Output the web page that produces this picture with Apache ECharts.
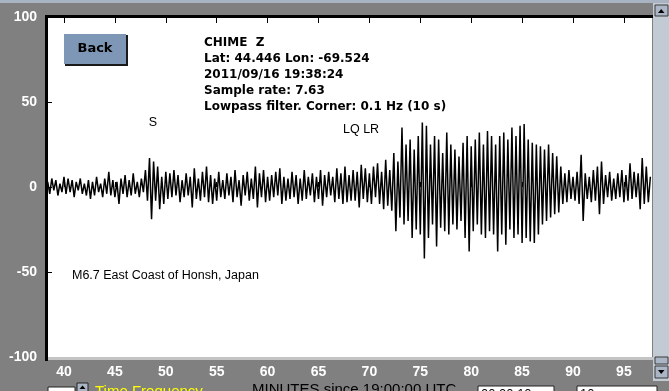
<!DOCTYPE html>
<html><head><meta charset="utf-8">
<script src="https://cdn.jsdelivr.net/npm/echarts@6/dist/echarts.min.js"></script>
<style>html,body{margin:0;padding:0;background:#808080;overflow:hidden}#c{width:669px;height:391px}</style>
</head><body><div id="c"></div><script>
// Trace sampled every 0.2 minute starting at 38.4 minutes after 19:00 UTC
const startMinute = 38.4;
const sampleStep = 0.2;
const noiseBefore = [
  3,-4,5,-2,4,-5,2,-3,6,-4,
  5,-3,4,-6,3,-2,5,-4,2,-5,
  4,-7,3,-5,6,-3,2,-6,5,-4,
  9,-5,4,-6,3,-10,5,-4,7,-6,
  4,-5,8,-4,3,-6,5,-3,10,-8
];
const bodyWaves = [
  17,-19,15,-8,12,-13,6,-10,9,-7,
  8,-6,10,-5,7,-9,4,-6,8,-5,
  6,-12,11,-7,5,-8,9,-6,12,-9,
  7,-10,5,-8,9,-6,4,-7,8,-5,
  6,-9,10,-6,4,-11,7,-5,9,-8,
  5,-7,12,-12,8,-6,10,-9,6,-8,
  7,-6,9,-5,11,-10,6,-8,5,-7,
  9,-6,7,-10,5,-8,10,-7,6,-5,
  8,-9,6,-7,10,-11,7,-6,9,-5,
  6,-9,11,-7,8,-10,12,-9,7,-8,
  10,-8,9,-12,13,-7,11,-9,8,-10,
  12,-6,14,-10,9,-13,16,-11,10,-14
];
const surfaceWaves = [
  20,-26,15,-18,35,-22,25,-20,28,-30,
  22,-25,30,-28,38,-42,36,-30,25,-22,
  30,-35,28,-24,20,-26,32,-28,25,-22,
  22,-25,18,-20,26,-30,30,-38,24,-26,
  28,-22,32,-28,25,-30,33,-26,30,-28,
  25,-38,30,-28,32,-34,28,-25,35,-30,
  30,-28,36,-33,37,-30,28,-32,26,-33,
  25,-28,24,-22,22,-20,25,-18,20,-16
];
const coda = [
  18,-15,12,-10,8,-9,10,-7,6,-8,
  9,-10,19,-20,8,-7,6,-9,10,-8,
  12,-16,15,-10,7,-6,9,-8,5,-7,
  8,-6,10,-9,7,-8,14,-7,9,-6,
  8,-13,17,-10,12,-9,6
];
const xTicks = [40,45,50,55,60,65,70,75,80,85,90,95];
const infoLines = [
  'CHIME  Z',
  'Lat: 44.446 Lon: -69.524',
  '2011/09/16 19:38:24',
  'Sample rate: 7.63',
  'Lowpass filter. Corner: 0.1 Hz (10 s)'
];
const eventLabel = 'M6.7 East Coast of Honsh, Japan';
const axisTitle = 'MINUTES since 19:00:00 UTC';

const trace = noiseBefore.concat(bodyWaves, surfaceWaves, coda);
const traceData = trace.map((v, i) => [+(startMinute + i * sampleStep).toFixed(2), v]);

const chart = echarts.init(document.getElementById('c'), null, {renderer: 'canvas'});
const labelStyle = {
  color: '#fff', fontWeight: 'bold', fontSize: 14, fontFamily: 'Liberation Sans',
  textShadowColor: '#000', textShadowOffsetX: 1, textShadowOffsetY: 1, textShadowBlur: 0
};
const graphics = [];
// top window strip
graphics.push({type: 'rect', shape: {x: 0, y: 0, width: 669, height: 3}, style: {fill: '#a9b4c3'}, z: 100});
// plot borders
graphics.push({type: 'rect', shape: {x: 45, y: 15, width: 608, height: 3}, style: {fill: '#000'}, z: 100});
graphics.push({type: 'rect', shape: {x: 45, y: 15, width: 3, height: 346}, style: {fill: '#000'}, z: 100});
graphics.push({type: 'rect', shape: {x: 48, y: 357, width: 605, height: 3}, style: {fill: '#c4c4c4'}, z: 100});
// scrollbar
graphics.push({type: 'rect', shape: {x: 653, y: 3, width: 16, height: 378}, style: {fill: '#c2cad4'}, z: 100});
graphics.push({type: 'rect', shape: {x: 655, y: 5, width: 13, height: 11}, style: {fill: '#aab6c6', stroke: '#3a3a3a', lineWidth: 1}, z: 101});
graphics.push({type: 'polygon', shape: {points: [[658, 13], [664.5, 13], [661.2, 9]]}, style: {fill: '#000'}, z: 102});
graphics.push({type: 'rect', shape: {x: 655, y: 357, width: 13, height: 7}, style: {fill: '#aab6c6', stroke: '#3a3a3a', lineWidth: 1}, z: 101});
graphics.push({type: 'rect', shape: {x: 655, y: 366, width: 13, height: 12}, style: {fill: '#aab6c6', stroke: '#3a3a3a', lineWidth: 1}, z: 101});
graphics.push({type: 'polygon', shape: {points: [[658, 370], [664.5, 370], [661.2, 374]]}, style: {fill: '#000'}, z: 102});
graphics.push({type: 'rect', shape: {x: 653, y: 381, width: 16, height: 10}, style: {fill: '#808080'}, z: 100});
// Back button
graphics.push({type: 'rect', shape: {x: 65, y: 35, width: 63, height: 31}, style: {fill: '#1a1a1a'}, z: 100});
graphics.push({type: 'rect', shape: {x: 64, y: 34, width: 62, height: 30}, style: {fill: '#7f97b6'}, z: 101});
graphics.push({type: 'text', x: 95, y: 49, style: {text: 'Back', fill: '#000', font: 'bold 13px "DejaVu Sans"', align: 'center', verticalAlign: 'middle'}, z: 102});
// info text
infoLines.forEach((t, i) => {
  graphics.push({type: 'text', x: 204, y: 42.5 + i * 16.2, style: {text: t, fill: '#000', font: 'bold 12px "DejaVu Sans"', verticalAlign: 'middle'}, z: 102});
});
graphics.push({type: 'text', x: 153, y: 123, style: {text: 'S', fill: '#000', font: '12.5px "Liberation Sans"', align: 'center', verticalAlign: 'middle'}, z: 102});
graphics.push({type: 'text', x: 343, y: 130, style: {text: 'LQ LR', fill: '#000', font: '12.5px "Liberation Sans"', verticalAlign: 'middle'}, z: 102});
graphics.push({type: 'text', x: 72, y: 276, style: {text: eventLabel, fill: '#000', font: '12.5px "Liberation Sans"', verticalAlign: 'middle'}, z: 102});
// bottom controls (partially visible)
graphics.push({type: 'rect', shape: {x: 48, y: 387, width: 27, height: 10}, style: {fill: '#fff', stroke: '#222', lineWidth: 1}, z: 100});
graphics.push({type: 'rect', shape: {x: 77, y: 383, width: 11, height: 10}, style: {fill: '#aab6c6', stroke: '#222', lineWidth: 1}, z: 100});
graphics.push({type: 'polygon', shape: {points: [[79.5, 389], [85.5, 389], [82.5, 385.5]]}, style: {fill: '#000'}, z: 101});
graphics.push({type: 'text', x: 95, y: 384, style: {text: 'Time Frequency', fill: '#ffff00', font: '15px "Liberation Sans"', verticalAlign: 'top'}, z: 100});
graphics.push({type: 'text', x: 252, y: 382, style: {text: axisTitle, fill: '#000', font: '15px "Liberation Sans"', verticalAlign: 'top'}, z: 100});
graphics.push({type: 'rect', shape: {x: 478, y: 386, width: 76, height: 10}, style: {fill: '#fff', stroke: '#222', lineWidth: 1}, z: 100});
graphics.push({type: 'text', x: 481, y: 388, style: {text: '00:00:10', fill: '#000', font: '13px "Liberation Sans"', verticalAlign: 'top'}, z: 101});
graphics.push({type: 'rect', shape: {x: 577, y: 386, width: 80, height: 10}, style: {fill: '#fff', stroke: '#222', lineWidth: 1}, z: 100});
graphics.push({type: 'text', x: 580, y: 388, style: {text: '10', fill: '#000', font: '13px "Liberation Sans"', verticalAlign: 'top'}, z: 101});

chart.setOption({
  animation: false,
  backgroundColor: '#808080',
  grid: {left: 47, right: 17, top: 17, bottom: 34, show: true, backgroundColor: '#fff', borderWidth: 0},
  xAxis: [{
    type: 'value', position: 'bottom', min: 38.33, max: 97.76,
    axisLine: {show: false},
    axisTick: {show: true, inside: true, length: 5, lineStyle: {color: '#000'}, customValues: xTicks},
    axisLabel: Object.assign({customValues: xTicks, margin: 8}, labelStyle),
    splitLine: {show: false}
  }, {
    type: 'value', position: 'top', min: 38.33, max: 97.76,
    axisLine: {show: false},
    axisTick: {show: true, inside: true, length: 6, lineStyle: {color: '#000'}, customValues: xTicks},
    axisLabel: {show: false},
    splitLine: {show: false}
  }],
  yAxis: {
    type: 'value', min: -100, max: 100, interval: 50,
    axisLine: {show: false},
    axisTick: {show: true, inside: true, length: 5, lineStyle: {color: '#000'}},
    axisLabel: Object.assign({margin: 10}, labelStyle),
    splitLine: {show: false}
  },
  series: [{
    type: 'line', data: traceData, showSymbol: false, symbol: 'none',
    lineStyle: {color: '#000', width: 1.5}, clip: true, xAxisIndex: 0
  }],
  graphic: graphics
});
</script></body></html>
